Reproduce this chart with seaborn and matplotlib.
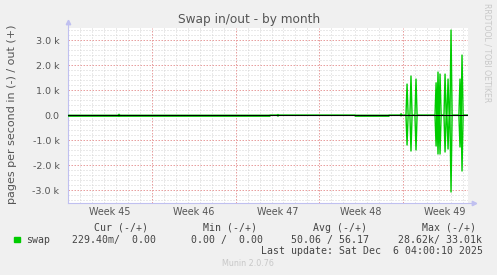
import numpy as np
import pandas as pd
import matplotlib
matplotlib.use("Agg")
import matplotlib.pyplot as plt
import seaborn as sns

# ---------------- data (days relative to Mon 10 Nov 2025 00:00) ----------------
x_start, x_end = -7.07, 26.44
week_labels = ["Week 45", "Week 46", "Week 47", "Week 48", "Week 49"]
week_centers = [-3.5, 3.5, 10.5, 17.5, 24.5]
week_bounds = [0, 7, 14, 21]

y_ticks = [-3000, -2000, -1000, 0, 1000, 2000, 3000]
y_labels = ["-3.0 k", "-2.0 k", "-1.0 k", "0.0", "1.0 k", "2.0 k", "3.0 k"]

# baseline level of the "in" series (pages/s), piecewise
base_t = [-7.07, 9.87, 9.87, 17.0, 17.0, 19.83, 19.83, 26.44]
base_in = [35, 35, 0, 0, 35, 35, 0, 0]
base_out = [0, 0, 0, 0, 0, 0, 0, 0]

# small bumps and big spikes
spike_t = [-2.76, 10.54, 20.84, 21.34, 21.67, 22.09, 23.77, 23.93, 24.10,
           24.52, 24.77, 25.02, 25.77, 25.94]
spike_out = [40, 30, 60, 1250, 1570, 1450, 1300, 1730, 1650,
             1650, 1450, 3410, 1450, 2410]
spike_in = [40, 30, 20, 1190, 1430, 1390, 1230, 1550, 1550,
            1470, 1350, 3070, 1270, 2230]

GREEN = "#00CC00"
TXT = "#555555"


def build(bt, bv, st, sv, sign):
    pts = [(t, v) for t, v in zip(bt, bv)]
    for t, v in zip(st, sv):
        b = float(np.interp(t, bt, bv))
        pts += [(t - 0.09, b), (t, v), (t + 0.09, b)]
    pts = sorted(pts, key=lambda p: p[0])
    return pd.DataFrame({"t": [p[0] for p in pts], "v": [sign * p[1] for p in pts]})


df_out = build(base_t, base_out, spike_t, spike_out, 1)
df_in = build(base_t, base_in, spike_t, spike_in, -1)

sns.set_style("white")
plt.rcParams["font.family"] = ["DejaVu Sans"]

W, H = 497, 275
fig = plt.figure(figsize=(W / 100, H / 100), dpi=100, facecolor="#F0F0F0")
L, R, T, B = 67.5, 468, 27.7, 202.5
ax = fig.add_axes([L / W, 1 - B / H, (R - L) / W, (B - T) / H])
ax.set_facecolor("white")

ax.set_xlim(x_start, x_end)
ax.set_ylim(-3490, 3505)

# grid
for yv in range(-3400, 3401, 200):
    if yv % 1000 == 0:
        ax.axhline(yv, color="#e8a0a0", lw=0.72, ls=(0, (1.5, 1.5)), zorder=1)
    else:
        ax.axhline(yv, color="#d4d4d4", lw=0.72, ls=(0, (1, 2)), zorder=0.5)
for d in range(-7, 27):
    if d in week_bounds:
        ax.axvline(d, color="#e8a0a0", lw=0.72, ls=(0, (1.5, 1.5)), zorder=1)
    elif d > x_start:
        ax.axvline(d, color="#d4d4d4", lw=0.72, ls=(0, (1, 2)), zorder=0.5)

sns.lineplot(data=df_in, x="t", y="v", ax=ax, color=GREEN, lw=1.0,
             sort=False, estimator=None, zorder=3)
sns.lineplot(data=df_out, x="t", y="v", ax=ax, color=GREEN, lw=1.0,
             sort=False, estimator=None, zorder=3)
ax.axhline(0, color="black", lw=0.8, zorder=4)

ax.set_xticks(week_centers, week_labels)
ax.set_yticks(y_ticks, y_labels)
ax.set_xticks(week_bounds, minor=True)
ax.tick_params(axis="x", which="major", length=0, pad=3.2, labelsize=6.9, labelcolor=TXT)
ax.tick_params(axis="x", which="minor", length=2, color="#e8a0a0", width=0.7)
ax.tick_params(axis="y", length=0, pad=5.8, labelsize=6.8, labelcolor=TXT)
ax.set_xlabel("")
ax.set_ylabel("")

for s in ["top", "right"]:
    ax.spines[s].set_visible(False)
AX = "#c0c0f0"
for s in ["left", "bottom"]:
    ax.spines[s].set_color(AX)
    ax.spines[s].set_linewidth(0.8)
# axis arrows
ax.plot([0, 0], [1.0, 1.03], color=AX, lw=0.8, transform=ax.transAxes, clip_on=False)
ax.plot([0], [1.03], marker="^", ms=3.2, color=AX, transform=ax.transAxes, clip_on=False)
ax.plot([1.0, 1.015], [0, 0], color=AX, lw=0.8, transform=ax.transAxes, clip_on=False)
ax.plot([1.015], [0], marker=">", ms=3.2, color=AX, transform=ax.transAxes, clip_on=False)

# texts
def fx(x):
    return x / W

def fy(y):
    return 1 - y / H

fig.text(fx(249), fy(19), "Swap in/out - by month", ha="center", va="center",
         fontsize=8.7, color=TXT)
fig.text(fx(12), fy(114), "pages per second in (-) / out (+)", rotation=90,
         ha="center", va="center", fontsize=8.0, color=TXT)
fig.text(fx(487.5), fy(53), "RRDTOOL / TOBI OETIKER", rotation=-90,
         ha="center", va="center", fontsize=5.6, color="#c8c8c8")

MONO = dict(family="DejaVu Sans Mono", fontsize=7.1, color="#444444", va="center")
fig.text(fx(120.5), fy(228), "Cur (-/+)", ha="center", **MONO)
fig.text(fx(230), fy(228), "Min (-/+)", ha="center", **MONO)
fig.text(fx(340), fy(228), "Avg (-/+)", ha="center", **MONO)
fig.text(fx(449.5), fy(228), "Max (-/+)", ha="center", **MONO)

fig.patches.append(plt.Rectangle((fx(14), fy(242.3)), 6 / W, 5.5 / H,
                                 transform=fig.transFigure, color=GREEN, figure=fig))
fig.text(fx(26.5), fy(240), "swap", ha="left", **MONO)
fig.text(fx(71.7), fy(240), "229.40m/  0.00", ha="left", **MONO)
fig.text(fx(190.7), fy(240), "0.00 /  0.00", ha="left", **MONO)
fig.text(fx(291), fy(240), "50.06 / 56.17", ha="left", **MONO)
fig.text(fx(397.7), fy(240), "28.62k/ 33.01k", ha="left", **MONO)
fig.text(fx(482.7), fy(251.5), "Last update: Sat Dec  6 04:00:10 2025", ha="right", **MONO)
fig.text(fx(248), fy(264), "Munin 2.0.76", ha="center", va="center",
         fontsize=5.8, color="#c8c8c8")

fig.savefig("out.png", dpi=100, facecolor=fig.get_facecolor())
